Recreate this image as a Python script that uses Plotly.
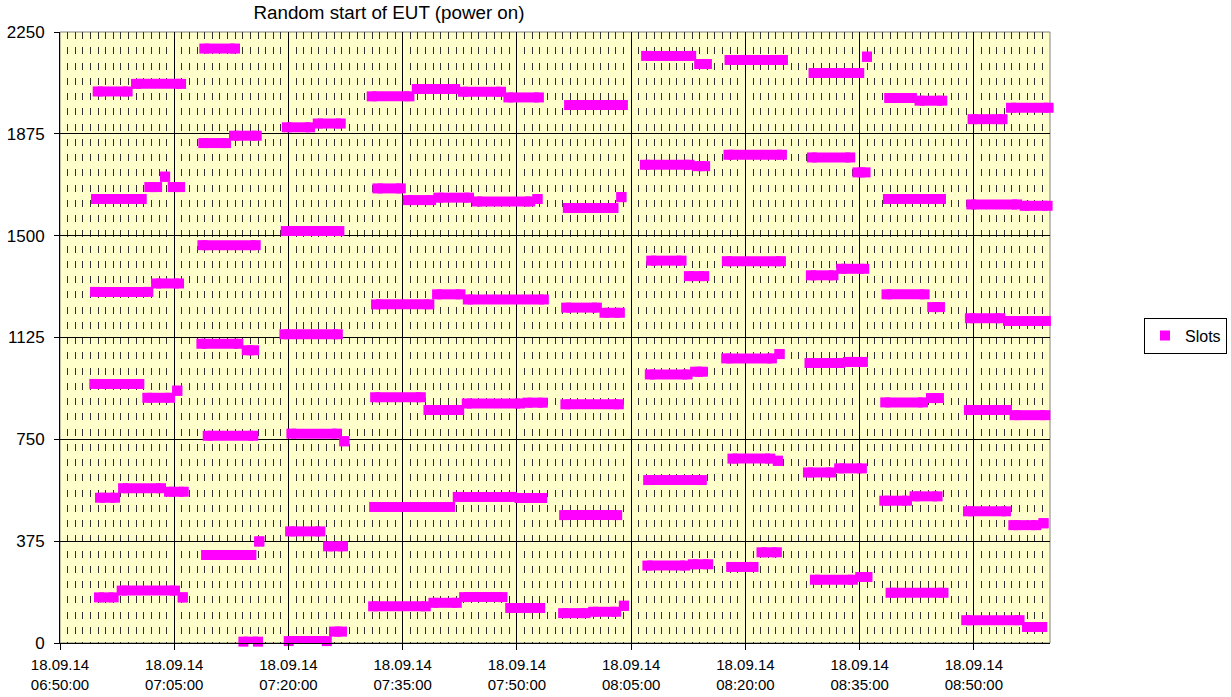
import plotly.graph_objects as go

DAY = "2014-09-18"

# Runs of identical slot values: first and last sample time of each run
seg_start = [
    "06:54:57", "06:59:59", "07:08:57", "07:30:56", "07:36:51", "07:42:54", "07:48:53", "07:56:51",
    "08:06:58", "08:13:56", "08:17:55", "08:28:57", "08:35:58", "08:38:53", "08:42:52", "08:49:50", "08:54:53",
    "07:19:47", "07:23:51", "07:08:49", "07:12:51", "08:06:48", "08:13:38", "08:17:47", "08:28:44", "08:34:43",
    "06:54:44", "07:01:44", "07:03:48", "07:04:48", "07:31:41", "07:35:40", "07:39:41", "07:44:44",
    "07:52:42", "07:56:41", "08:03:43", "07:19:39", "08:38:43", "08:49:40", "08:56:40",
    "07:08:42", "08:07:38", "08:12:35", "08:17:34", "08:28:36", "08:32:35", "06:54:36", "07:02:37",
    "07:31:30", "07:39:31", "07:43:33", "07:56:28", "08:01:30", "08:38:32", "08:44:32", "08:49:29", "08:54:29",
    "07:19:28", "07:08:34", "07:14:31", "08:17:29", "08:24:29", "08:28:25", "08:33:28", "08:07:27", "08:13:24",
    "06:54:30", "07:01:28", "07:05:24", "07:31:23", "07:38:23", "07:43:25", "07:51:23", "07:56:22",
    "08:38:22", "08:44:22", "08:49:21", "08:55:21",
    "07:09:24", "07:20:23", "07:27:20", "08:18:18", "08:24:16", "08:07:14", "08:28:13", "08:32:19",
    "06:55:15", "06:58:17", "07:04:19", "07:31:15", "07:42:14", "07:50:20", "07:56:12", "08:38:14",
    "08:42:13", "08:49:14", "08:55:11", "08:59:09",
    "07:20:13", "07:16:10", "07:25:12", "07:09:11", "08:07:08", "08:13:06", "08:18:08", "08:22:07",
    "06:55:07", "06:58:06", "07:06:07", "07:31:07", "07:39:02", "07:43:04", "07:49:07", "07:56:04",
    "08:00:01", "08:04:03", "08:29:08", "08:35:05", "08:39:04", "08:49:00", "08:56:59",
    "07:14:05", "07:20:02", "07:25:59",
]
seg_end = [
    "06:58:53", "07:05:54", "07:12:59", "07:35:53", "07:41:53", "07:47:55", "07:52:53", "08:03:55",
    "08:12:53", "08:14:57", "08:24:56", "08:34:57", "08:35:58", "08:41:52", "08:45:51", "08:53:46", "08:59:49",
    "07:22:50", "07:26:52", "07:11:48", "07:15:50", "08:12:40", "08:14:43", "08:24:48", "08:33:46", "08:35:47",
    "07:00:44", "07:02:45", "07:03:48", "07:05:46", "07:34:45", "07:38:44", "07:43:43", "07:51:44",
    "07:52:42", "08:02:41", "08:03:43", "07:26:41", "08:45:41", "08:55:40", "08:59:41",
    "07:15:42", "08:11:37", "08:14:35", "08:24:40", "08:31:34", "08:35:36", "07:01:36", "07:05:38",
    "07:38:30", "07:42:35", "07:53:32", "08:00:30", "08:03:31", "08:43:32", "08:45:33", "08:53:28", "08:59:28",
    "07:26:29", "07:13:25", "07:15:29", "08:23:29", "08:24:29", "08:32:27", "08:35:26", "08:12:24", "08:14:25",
    "07:00:25", "07:04:27", "07:05:24", "07:37:23", "07:42:25", "07:50:25", "07:53:24", "08:03:23",
    "08:43:19", "08:45:25", "08:54:21", "08:59:23",
    "07:15:23", "07:26:21", "07:27:20", "08:23:16", "08:24:16", "08:14:17", "08:31:14", "08:35:18",
    "06:57:14", "07:03:16", "07:06:15", "07:41:14", "07:49:20", "07:53:19", "08:03:10", "08:41:13",
    "08:45:14", "08:54:13", "08:58:12", "08:59:09",
    "07:24:11", "07:16:10", "07:27:10", "07:15:08", "08:12:06", "08:15:07", "08:21:04", "08:24:08",
    "06:57:03", "07:05:06", "07:06:07", "07:38:02", "07:42:06", "07:48:06", "07:53:03", "07:59:00",
    "08:03:02", "08:04:03", "08:34:07", "08:36:02", "08:46:01", "08:56:00", "08:58:59",
    "07:16:00", "07:25:02", "07:27:02",
]
slot = [
    2031, 2059, 2189, 2013, 2040, 2030, 2009, 1981,
    2162, 2132, 2147, 2099, 2159, 2007, 1997, 1929, 1971,
    1899, 1913, 1841, 1868, 1761, 1756, 1798, 1788, 1733,
    1635, 1679, 1717, 1679, 1674, 1631, 1640, 1626,
    1635, 1602, 1642, 1517, 1635, 1615, 1610,
    1465, 1408, 1351, 1406, 1354, 1378, 1293, 1324,
    1247, 1284, 1265, 1235, 1216, 1284, 1237, 1196, 1186,
    1137, 1102, 1078, 1048, 1064, 1031, 1035, 989, 999,
    954, 903, 929, 905, 858, 882, 885, 879,
    886, 902, 858, 839,
    763, 771, 743, 679, 671, 600, 628, 643,
    535, 570, 557, 501, 538, 534, 471, 524,
    540, 485, 434, 441,
    411, 374, 356, 324, 285, 290, 280, 334,
    168, 193, 168, 135, 148, 169, 129, 110,
    115, 137, 233, 243, 185, 84, 59,
    5, 7, 42,
]

x_range = [f"{DAY} 06:50:00", f"{DAY} 09:00:00"]
y_ticks = [0, 375, 750, 1125, 1500, 1875, 2250]
title_text = "Random start of EUT (power on)"
series_name = "Slots"

MAG = "#FF00FF"
FONT = "Liberation Sans, Arial, sans-serif"

xs, ys = [], []
for s, e, v in zip(seg_start, seg_end, slot):
    xs += [f"{DAY} {s}", f"{DAY} {e}", None]
    ys += [v, v, None]

fig = go.Figure()
fig.add_trace(go.Scatter(
    x=xs, y=ys, mode="lines+markers", connectgaps=False,
    line=dict(color=MAG, width=10),
    marker=dict(symbol="square", size=10, color=MAG, line=dict(width=0)),
    cliponaxis=False, showlegend=False, hoverinfo="x+y",
))
fig.add_trace(go.Scatter(
    x=[None], y=[None], mode="markers", name=series_name,
    marker=dict(symbol="square", size=10, color=MAG),
))

fig.update_layout(
    width=1231, height=697,
    margin=dict(l=60, r=181, t=32, b=54, autoexpand=False),
    paper_bgcolor="white", plot_bgcolor="#FFFFCC",
    font=dict(family=FONT, color="black", size=15),
    title=dict(text=title_text, x=389 / 1231, xanchor="center", y=1 - 12 / 697, yanchor="middle",
               font=dict(family=FONT, size=18.8, color="black")),
    legend=dict(x=(1227 - 60) / 990, xanchor="right", y=(643 - 335.5) / 611, yanchor="middle",
                bordercolor="black", borderwidth=1, bgcolor="white",
                font=dict(family=FONT, size=16, color="black"),
                itemwidth=30, tracegroupgap=0),
    showlegend=True,
)
fig.update_xaxes(
    type="date", range=x_range, automargin=False,
    tick0=f"{DAY} 06:50:00", dtick=15 * 60 * 1000,
    tickformat="%d.%m.%y<br>%H:%M:%S",
    ticks="outside", ticklen=6, tickcolor="black", ticklabelstandoff=2,
    tickfont=dict(family=FONT, size=15, color="black"),
    showgrid=True, gridcolor="black", gridwidth=1,
    minor=dict(dtick=60 * 1000, tick0=f"{DAY} 06:50:00", showgrid=True,
               gridcolor="#303030", gridwidth=1, griddash="7px,8.25px", ticks=""),
    showline=True, linecolor="black", linewidth=1,
    zeroline=False, fixedrange=True,
)
fig.update_yaxes(
    range=[0, 2250], tickmode="array", tickvals=y_ticks, automargin=False,
    ticks="outside", ticklen=5, tickcolor="black", ticklabelstandoff=6,
    tickfont=dict(family=FONT, size=17, color="black"),
    showgrid=True, gridcolor="black", gridwidth=1,
    showline=True, linecolor="black", linewidth=1,
    zeroline=False, fixedrange=True,
)
fig.add_shape(type="rect", xref="paper", yref="paper", x0=0, x1=1, y0=0, y1=1,
              line=dict(color="#808080", width=1), fillcolor="rgba(0,0,0,0)", layer="below")

fig.write_html("out.html", config={"displayModeBar": False},
               post_script="document.body.style.margin='0px';document.body.style.overflow='hidden';")
